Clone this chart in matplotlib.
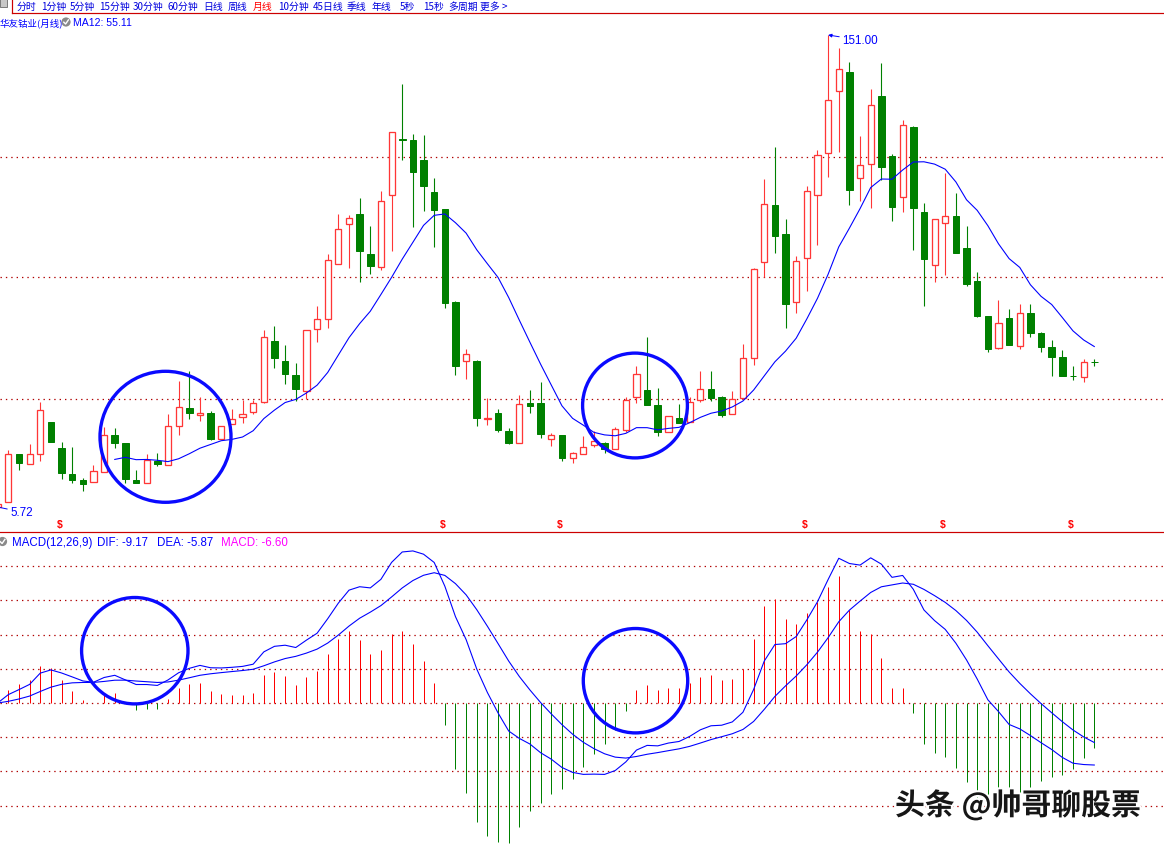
import numpy as np
import pandas as pd
import matplotlib
matplotlib.use("Agg")
import matplotlib.pyplot as plt
from matplotlib.patches import Circle, Rectangle
import matplotlib.patheffects as pe

# ---------------- monthly bars (first bar is the listing month) ----------------
opens = [5.72, 7.17, 21.94, 19.05, 21.94, 31.88, 23.88, 15.87, 14.03, 13.32,
         16.40, 27.79, 25.33, 13.94, 13.01, 19.97, 18.55, 30.56, 36.10, 33.94,
         34.56, 26.56, 31.17, 33.33, 34.87, 37.94, 56.72, 50.56, 46.35, 41.33,
         60.41, 63.49, 80.42, 92.73, 95.90, 83.59, 79.50, 101.66, 118.90, 118.68,
         112.52, 102.67, 97.44, 68.82, 50.56, 50.66, 32.87, 34.56, 29.02, 25.33,
         37.73, 37.73, 26.56, 27.88, 20.71, 21.94, 24.89, 25.33, 23.48, 29.33,
         39.49, 41.73, 37.11, 28.90, 33.11, 31.79, 38.56, 42.04, 39.58, 34.25,
         39.18, 51.49, 81.04, 98.67, 89.75, 68.91, 82.27, 101.84, 114.58, 133.67,
         139.61, 106.89, 111.20, 132.22, 113.76, 101.04, 122.68, 96.52, 80.11, 93.04,
         95.29, 85.44, 75.22, 64.44, 54.68, 63.83, 55.42, 65.58, 59.30, 54.90,
         51.82, 45.97, 45.88, 50.28]
highs = [7.30, 23.35, 22.00, 25.10, 38.13, 31.88, 25.72, 24.28, 14.65, 18.65,
         30.25, 29.94, 25.33, 17.11, 21.94, 22.25, 34.25, 44.50, 47.49, 39.49,
         35.27, 30.56, 35.88, 38.75, 38.75, 60.20, 61.43, 55.58, 50.04, 60.11,
         67.49, 83.59, 95.90, 95.60, 100.83, 92.21, 102.98, 121.05, 135.92, 120.53,
         120.22, 106.98, 97.44, 69.12, 54.26, 50.97, 39.18, 35.88, 30.04, 40.19,
         41.82, 44.29, 28.50, 27.88, 22.56, 27.57, 29.11, 25.72, 30.34, 39.49,
         49.03, 57.95, 42.35, 33.64, 37.42, 39.49, 47.58, 47.58, 39.97, 41.52,
         55.80, 79.28, 106.68, 116.62, 94.37, 83.07, 104.61, 115.70, 151.00, 147.00,
         142.69, 119.91, 134.38, 142.47, 114.28, 124.84, 122.99, 99.29, 94.27, 108.52,
         102.37, 92.30, 77.99, 64.44, 69.37, 66.69, 68.14, 68.14, 59.52, 57.06,
         53.98, 49.05, 51.21, 51.21]
lows = [5.72, 7.17, 17.20, 19.05, 19.97, 25.82, 14.43, 13.11, 10.74, 13.32,
        16.40, 23.79, 13.20, 13.20, 13.01, 18.25, 18.55, 27.88, 32.90, 32.28,
        26.25, 26.56, 31.17, 31.57, 34.25, 37.72, 48.59, 43.67, 38.29, 38.96,
        56.41, 60.72, 80.42, 79.37, 74.88, 77.53, 78.76, 84.61, 112.62, 92.00,
        96.92, 85.84, 67.06, 46.44, 45.21, 30.74, 31.05, 28.90, 25.11, 25.33,
        34.74, 26.96, 24.59, 19.97, 19.35, 21.94, 24.28, 22.43, 23.48, 28.90,
        37.64, 37.21, 27.67, 28.90, 31.67, 31.79, 37.94, 38.34, 33.33, 34.25,
        39.18, 49.42, 76.42, 83.99, 60.72, 65.52, 72.30, 86.36, 107.39, 115.08,
        98.77, 99.90, 97.75, 106.46, 93.84, 96.61, 84.91, 67.68, 74.88, 77.22,
        83.81, 73.84, 64.23, 53.45, 54.38, 55.61, 54.38, 57.98, 53.45, 46.19,
        46.19, 44.84, 44.04, 49.27]
closes = [6.60, 21.94, 19.26, 21.94, 35.48, 25.82, 16.28, 14.12, 12.89, 16.71,
          27.79, 25.51, 14.43, 13.20, 20.09, 18.86, 30.56, 36.41, 34.74, 34.56,
          26.75, 30.56, 32.71, 34.25, 37.72, 57.95, 51.49, 46.75, 42.13, 60.11,
          63.49, 81.65, 91.19, 94.58, 84.61, 79.99, 99.81, 121.05, 118.80, 108.92,
          104.61, 97.23, 68.60, 49.21, 52.72, 33.02, 33.02, 29.51, 25.51, 37.33,
          36.80, 28.19, 27.79, 20.71, 22.25, 24.19, 26.02, 23.66, 29.63, 38.56,
          46.56, 37.21, 28.71, 33.64, 31.67, 37.94, 41.95, 39.37, 34.13, 38.87,
          51.49, 78.98, 98.89, 89.23, 68.20, 81.34, 102.89, 114.06, 130.90, 140.44,
          103.38, 110.89, 129.36, 110.46, 98.15, 123.20, 97.84, 82.14, 94.27, 95.20,
          83.99, 74.45, 64.44, 54.29, 62.50, 55.61, 65.58, 59.21, 54.99, 51.92,
          46.19, 45.90, 50.47, 50.22]

# bars carrying an ex-dividend / bonus-share mark
dividend_bars = [5, 41, 52, 75, 88, 100]

price_grid = [39.11, 76.36, 113.60]
macd_grid = [-15, -10, -5, 0, 5, 10, 15, 20]

toolbar = [("分时", 17), ("1分钟", 41), ("5分钟", 70), ("15分钟", 99), ("30分钟", 133),
           ("60分钟", 168), ("日线", 203), ("周线", 228), ("月线", 253), ("10分钟", 278),
           ("45日线", 313), ("季线", 347), ("年线", 372), ("5秒", 400), ("15秒", 423),
           ("多周期", 448), ("更多 >", 480)]

stock_title = "华友钴业(月线)"
ma_label = "MA12: 55.11"
macd_label = ["MACD(12,26,9)", "DIF: -9.17", "DEA: -5.87", "MACD: -6.60"]
watermark = "头条 @帅哥聊股票"

# ---------------- derived series ----------------
o = np.array(opens); h = np.array(highs); l = np.array(lows); c = np.array(closes)
n = len(c)
x = np.arange(-1, n - 1)
cs = pd.Series(c)
ma12 = cs.rolling(12).mean().to_numpy()
dif = (cs.ewm(span=12, adjust=False).mean() - cs.ewm(span=26, adjust=False).mean()).to_numpy()
dea = pd.Series(dif).ewm(span=9, adjust=False).mean().to_numpy()
macd = 2 * (dif - dea)

# ---------------- figure ----------------
W, H, DPI = 1164, 845, 100
fig = plt.figure(figsize=(W / DPI, H / DPI), dpi=DPI, facecolor="white")
PX = 72.0 / DPI  # one pixel in points

RED = "#ff3636"
GREEN = "#008000"
BLUE = "#0000ff"
GRID = "#b00000"
CJK = ["Noto Sans CJK SC", "DejaVu Sans"]
LAT = ["Liberation Sans", "Noto Sans CJK SC"]
NARROW = ["Liberation Sans Narrow", "Liberation Sans", "DejaVu Sans"]

step = 10.647
x0 = -8.3 / step
x1 = (W - 8.3) / step

def px_axes(top, bottom):
    return [0, 1 - bottom / H, 1, (bottom - top) / H]

# price panel
ax = fig.add_axes(px_axes(15, 532))
ax.set_xlim(x0, x1)
ax.set_ylim(162.08 - 0.3078 * 532, 162.08 - 0.3078 * 15)
ax.axis("off")
for g in price_grid:
    ax.axhline(g, color=GRID, lw=0.9, dashes=(1.1, 3.2), zorder=0)

up = c >= o
lo_b = np.minimum(o, c)
hi_b = np.maximum(o, c)
col = np.where(up, RED, GREEN)
ax.vlines(x, l, lo_b, colors=col, lw=1.1 * PX, zorder=2)
ax.vlines(x, hi_b, h, colors=col, lw=1.1 * PX, zorder=2)
ax.bar(x[up], (hi_b - lo_b)[up], bottom=lo_b[up], width=0.58,
       facecolor="white", edgecolor=RED, linewidth=1.3 * PX, zorder=3)
ax.bar(x[~up], (hi_b - lo_b)[~up], bottom=lo_b[~up], width=0.62,
       facecolor=GREEN, edgecolor=GREEN, linewidth=1.0 * PX, zorder=3)
ax.plot(x, ma12, color=BLUE, lw=1.1 * PX, zorder=4)

# extreme labels
ihi = int(np.argmax(h)); ilo = int(np.argmin(l))
ax.annotate(f"{h[ihi]:.2f}", xy=(x[ihi], h[ihi]), xytext=(842, H - 41),
            textcoords="figure pixels", va="center", ha="left", color=BLUE,
            fontsize=8.4, family=LAT,
            arrowprops=dict(arrowstyle="-|>", color=BLUE, lw=0.7, mutation_scale=5,
                            shrinkA=0, shrinkB=0))
ax.annotate(f"{l[ilo]:.2f}", xy=(x[ilo], l[ilo]), xytext=(10, H - 513),
            textcoords="figure pixels", va="center", ha="left", color=BLUE,
            fontsize=8.4, family=LAT, annotation_clip=False,
            arrowprops=dict(arrowstyle="-", color=BLUE, lw=0.7, shrinkA=0, shrinkB=0))

# ex-dividend marks along the bottom of the price panel
tr = ax.get_xaxis_transform()
for b in dividend_bars:
    ax.text(b - 0.2, 0.013, "$", transform=tr, color="#ff0000", fontsize=7.5,
            fontweight="bold", ha="center", va="center", family=LAT)

# MACD panel
am = fig.add_axes(px_axes(533, 845))
am.set_xlim(x0, x1)
am.set_ylim(-(845 - 704) / 6.84, (704 - 533) / 6.84)
am.axis("off")
for g in macd_grid:
    am.axhline(g, color=GRID, lw=0.9, dashes=(1.1, 3.2), zorder=0)
am.vlines(x, 0, macd, colors=np.where(macd >= 0, "#ff0000", GREEN), lw=1.0 * PX, zorder=2)
am.plot(x, dif, color=BLUE, lw=1.1 * PX, zorder=3)
am.plot(x, dea, color=BLUE, lw=1.1 * PX, zorder=3)

# overlay in pixel units: frame lines, header text, highlight circles
ov = fig.add_axes([0, 0, 1, 1], facecolor="none")
ov.set_xlim(0, W)
ov.set_ylim(H, 0)
ov.axis("off")
ov.plot([12, W], [13.5, 13.5], color="#cc0000", lw=1.2 * PX)
ov.plot([12, 12], [0, 13.5], color="#cc0000", lw=1.2 * PX)
ov.plot([0, W], [532.5, 532.5], color="#cc0000", lw=1.2 * PX)
ov.add_patch(Rectangle((0, 0), 7, 8, facecolor="#c8c8c8", edgecolor="#7a7a7a", lw=0.7))

for label, xp in toolbar:
    ov.text(xp, 6.8, label, color="#ff0000" if label == "月线" else "#0000dd",
            fontsize=7.1, family=CJK, ha="left", va="center")

ov.text(0, 23, stock_title, color=BLUE, fontsize=6.8, family=CJK, ha="left", va="center")
ov.add_patch(Circle((66, 23), 4.6, facecolor="#8a8a8a", edgecolor="none"))
ov.plot([63.8, 65.6, 68.4], [23.2, 25.0, 20.9], color="white", lw=1.0)
ov.text(73, 23.5, ma_label, color=BLUE, fontsize=7.6, family=NARROW, ha="left", va="center")

ov.add_patch(Circle((2.5, 542.5), 4.6, facecolor="#8a8a8a", edgecolor="none"))
ov.plot([0.3, 2.1, 4.9], [542.7, 544.5, 540.4], color="white", lw=1.0)
mx = [12, 97, 157, 221]
mc = [BLUE, BLUE, BLUE, "#ff00ff"]
for t, xp, cc in zip(macd_label, mx, mc):
    ov.text(xp, 543, t, color=cc, fontsize=8.3, family=LAT, ha="left", va="center")

for (cx, cy, r) in [(165.5, 437.8, 65.5), (635.0, 406.5, 52.4),
                    (134.8, 651.7, 53.2), (635.5, 681.7, 52.2)]:
    ov.add_patch(Circle((cx, cy), r, fill=False, edgecolor="#0a0aff", lw=2.4))

ov.text(895, 806, watermark, color="#161616", fontsize=21.5, family=CJK,
        fontweight="bold", ha="left", va="center",
        path_effects=[pe.withStroke(linewidth=3, foreground="white")])

fig.savefig("out.png", dpi=DPI, facecolor="white")
